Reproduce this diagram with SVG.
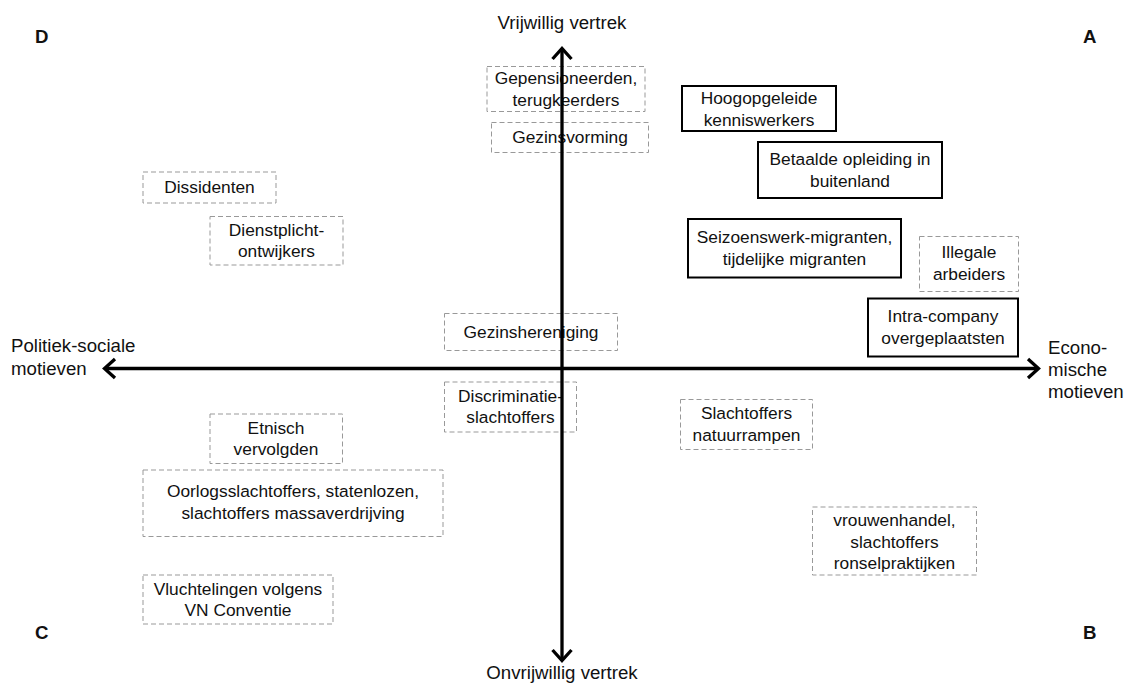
<svg xmlns="http://www.w3.org/2000/svg" width="1124" height="684" viewBox="0 0 1124 684">
<style>
text{font-family:"Liberation Sans",Arial,sans-serif;fill:#111;}
.t{font-size:17.33px;text-anchor:middle;}
.ax{font-size:18.67px;}
.c{font-size:18.67px;font-weight:bold;}
.d{fill:#fff;stroke:#999;stroke-width:1;stroke-dasharray:5 3;}
.s{fill:#fff;stroke:#000;stroke-width:2;}
.axis{fill:none;stroke:#000;stroke-width:3.3;}
.head{fill:none;stroke:#000;stroke-width:3.3;stroke-linecap:butt;stroke-linejoin:miter;}
</style>
<rect width="1124" height="684" fill="#fff"/>
<g id="corners">
<text class="c" x="35" y="43">D</text>
<text class="c" x="1083" y="43">A</text>
<text class="c" x="35" y="639">C</text>
<text class="c" x="1083" y="639">B</text>
</g>
<g id="axis-labels">
<text class="ax" x="562" y="29" text-anchor="middle">Vrijwillig vertrek</text>
<text class="ax" x="562" y="679" text-anchor="middle">Onvrijwillig vertrek</text>
<text class="ax" x="11" y="352">Politiek-sociale</text>
<text class="ax" x="11" y="375">motieven</text>
<text class="ax" x="1048" y="354">Econo-</text>
<text class="ax" x="1048" y="376">mische</text>
<text class="ax" x="1048" y="398">motieven</text>
</g>
<g id="n-gepensioneerden"><rect class="d" x="487" y="66.5" width="158" height="45"/><text class="t" x="566" y="84">Gepensioneerden,</text><text class="t" x="566" y="105.5">terugkeerders</text></g>
<g id="n-gezinsvorming"><rect class="d" x="491.5" y="122.5" width="157" height="30"/><text class="t" x="570" y="143">Gezinsvorming</text></g>
<g id="n-hoogopgeleide"><rect class="s" x="682" y="86" width="154" height="45"/><text class="t" x="759" y="104">Hoogopgeleide</text><text class="t" x="759" y="125.5">kenniswerkers</text></g>
<g id="n-betaalde"><rect class="s" x="758" y="142" width="184" height="56"/><text class="t" x="850" y="165">Betaalde opleiding in</text><text class="t" x="850" y="186.5">buitenland</text></g>
<g id="n-dissidenten"><rect class="d" x="143" y="172" width="133" height="31"/><text class="t" x="209.5" y="193">Dissidenten</text></g>
<g id="n-dienstplicht"><rect class="d" x="210" y="216.5" width="133" height="48.5"/><text class="t" x="276.5" y="235.5">Dienstplicht-</text><text class="t" x="276.5" y="257">ontwijkers</text></g>
<g id="n-seizoenswerk"><rect class="s" x="688" y="219" width="213" height="58.5"/><text class="t" x="794.5" y="243">Seizoenswerk-migranten,</text><text class="t" x="794.5" y="264.5">tijdelijke migranten</text></g>
<g id="n-illegale"><rect class="d" x="919.5" y="236.5" width="99" height="55"/><text class="t" x="969" y="258">Illegale</text><text class="t" x="969" y="279.5">arbeiders</text></g>
<g id="n-intra"><rect class="s" x="868" y="298.5" width="150" height="58"/><text class="t" x="943" y="322">Intra-company</text><text class="t" x="943" y="343.5">overgeplaatsten</text></g>
<g id="n-gezinshereniging"><rect class="d" x="444.5" y="313.5" width="173" height="37"/><text class="t" x="531" y="338">Gezinshereniging</text></g>
<g id="n-discriminatie"><rect class="d" x="444.5" y="382" width="132" height="50"/><text class="t" x="510.5" y="401.5">Discriminatie-</text><text class="t" x="510.5" y="423">slachtoffers</text></g>
<g id="n-natuurrampen"><rect class="d" x="680.5" y="399.5" width="132" height="50"/><text class="t" x="746.5" y="419">Slachtoffers</text><text class="t" x="746.5" y="440.5">natuurrampen</text></g>
<g id="n-etnisch"><rect class="d" x="210" y="414" width="132.5" height="49.5"/><text class="t" x="276" y="433.5">Etnisch</text><text class="t" x="276" y="455">vervolgden</text></g>
<g id="n-oorlog"><rect class="d" x="143" y="470" width="300" height="66.5"/><text class="t" x="293" y="497">Oorlogsslachtoffers, statenlozen,</text><text class="t" x="293" y="518.5">slachtoffers massaverdrijving</text></g>
<g id="n-vrouwenhandel"><rect class="d" x="812.5" y="507" width="164" height="68"/><text class="t" x="894.5" y="526">vrouwenhandel,</text><text class="t" x="894.5" y="547.5">slachtoffers</text><text class="t" x="894.5" y="569">ronselpraktijken</text></g>
<g id="n-vluchtelingen"><rect class="d" x="143" y="575" width="190" height="49"/><text class="t" x="238" y="594.5">Vluchtelingen volgens</text><text class="t" x="238" y="616">VN Conventie</text></g>
<g id="connectors">
<line class="axis" x1="105" y1="368.5" x2="1038" y2="368.5"/>
<line class="axis" x1="562" y1="49" x2="562" y2="660"/>
<polyline class="head" points="115,359 104.5,368.5 115,378"/>
<polyline class="head" points="1028,359 1038.5,368.5 1028,378"/>
<polyline class="head" points="552.5,59 562,48.5 571.5,59"/>
<polyline class="head" points="552.5,650 562,660.5 571.5,650"/>
</g>
</svg>
